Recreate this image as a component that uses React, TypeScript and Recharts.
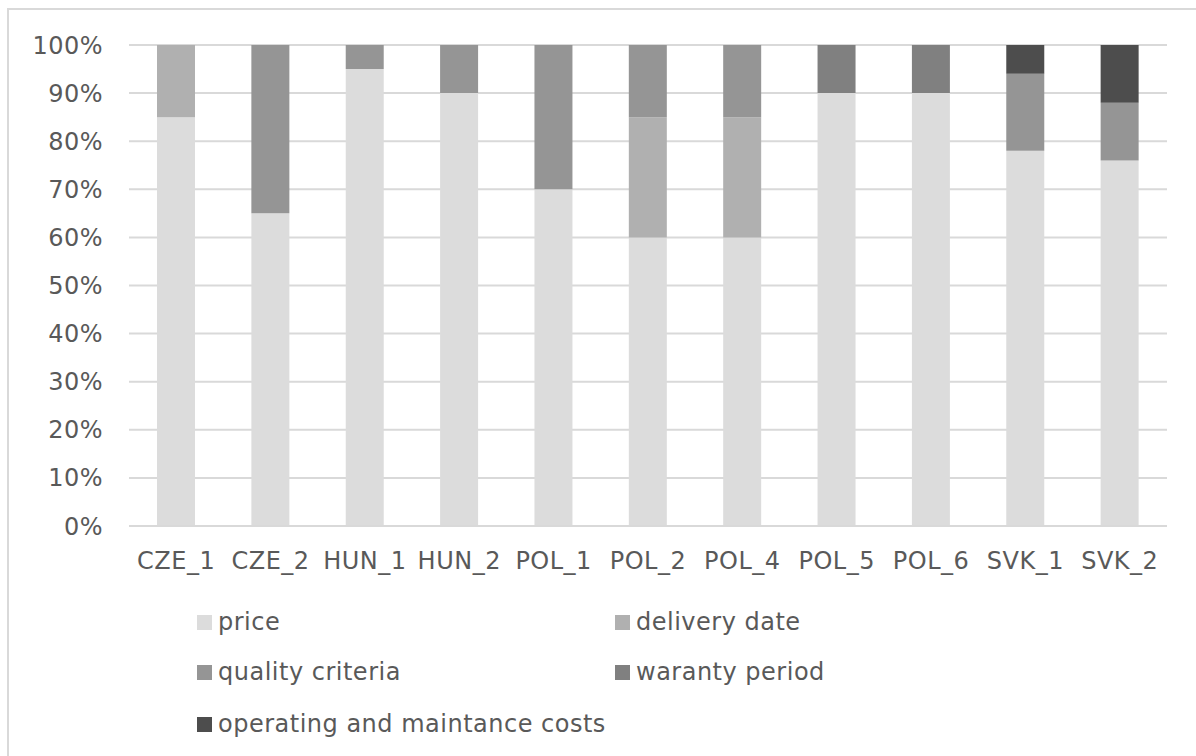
import * as React from 'react';
import { BarChart, Bar, XAxis, YAxis, CartesianGrid, Legend } from 'recharts';

const categories = ['CZE_1', 'CZE_2', 'HUN_1', 'HUN_2', 'POL_1', 'POL_2', 'POL_4', 'POL_5', 'POL_6', 'SVK_1', 'SVK_2'];
const price = [85, 65, 95, 90, 70, 60, 60, 90, 90, 78, 76];
const deliveryDate = [15, 0, 0, 0, 0, 25, 25, 0, 0, 0, 0];
const qualityCriteria = [0, 35, 5, 10, 30, 15, 15, 0, 0, 16, 12];
const warantyPeriod = [0, 0, 0, 0, 0, 0, 0, 10, 10, 0, 0];
const operatingCosts = [0, 0, 0, 0, 0, 0, 0, 0, 0, 6, 12];
const yTicks = [0, 10, 20, 30, 40, 50, 60, 70, 80, 90, 100];

const series = [
  { key: 'price', name: 'price', color: '#dcdcdc' },
  { key: 'delivery', name: 'delivery date', color: '#b0b0b0' },
  { key: 'quality', name: 'quality criteria', color: '#959595' },
  { key: 'waranty', name: 'waranty period', color: '#808080' },
  { key: 'operating', name: 'operating and maintance costs', color: '#4d4d4d' },
];

const data = categories.map((c, i) => ({
  name: c,
  price: price[i],
  delivery: deliveryDate[i],
  quality: qualityCriteria[i],
  waranty: warantyPeriod[i],
  operating: operatingCosts[i],
}));

const FONT = '"DejaVu Sans", Verdana, sans-serif';
const TXT = '#595959';

// legend slots: 2 columns, 3 rows
const legendPos = [
  { x: 197, y: 622 },
  { x: 615, y: 622 },
  { x: 197, y: 672 },
  { x: 615, y: 672 },
  { x: 197, y: 724 },
];

const MyLegend = () => (
  <div style={{ position: 'relative', width: 1196, height: 756 }}>
    {series.map((s, i) => (
      <div
        key={s.key}
        style={{
          position: 'absolute',
          left: legendPos[i].x,
          top: legendPos[i].y - 15,
          height: 30,
          display: 'flex',
          alignItems: 'center',
          whiteSpace: 'nowrap',
          fontFamily: FONT,
          fontSize: 24,
          letterSpacing: 0.5,
          color: TXT,
        }}
      >
        <span style={{ display: 'inline-block', width: 15, height: 15, background: s.color, marginRight: 6 }} />
        <span>{s.name}</span>
      </div>
    ))}
  </div>
);

const tickStyle = { fill: TXT, fontSize: 24, fontFamily: FONT, letterSpacing: 0.5 };

const App = () => {
  return (
    <div style={{ position: 'absolute', left: 0, top: 0, width: 1196, height: 756, background: '#fff' }}>
      <div
        style={{
          position: 'absolute',
          left: 7,
          top: 8,
          width: 1189,
          height: 748,
          borderLeft: '2px solid #d9d9d9',
          borderTop: '2px solid #d9d9d9',
          boxSizing: 'border-box',
        }}
      />
      <BarChart
        width={1196}
        height={756}
        data={data}
        margin={{ top: 45, right: 29, left: 0, bottom: 190 }}
        style={{ position: 'absolute', left: 0, top: 0 }}
      >
        <CartesianGrid vertical={false} stroke="#d9d9d9" strokeWidth={2} />
        <XAxis
          dataKey="name"
          height={40}
          tickLine={false}
          tickSize={0}
          tickMargin={26}
          axisLine={{ stroke: '#d9d9d9', strokeWidth: 2 }}
          tick={tickStyle}
          interval={0}
        />
        <YAxis
          width={129}
          domain={[0, 100]}
          ticks={yTicks}
          tickFormatter={(v) => `${v}%`}
          axisLine={false}
          tickLine={false}
          tickSize={0}
          tickMargin={26}
          tick={tickStyle}
          interval={0}
        />
        <Legend
          layout="vertical"
          align="center"
          verticalAlign="middle"
          content={MyLegend}
          wrapperStyle={{ left: 0, top: 0, width: 1196, height: 756, pointerEvents: 'none' }}
        />
        {series.map((s) => (
          <Bar key={s.key} dataKey={s.key} name={s.name} stackId="a" fill={s.color} barSize={38} isAnimationActive={false} />
        ))}
      </BarChart>
    </div>
  );
};

export default App;
